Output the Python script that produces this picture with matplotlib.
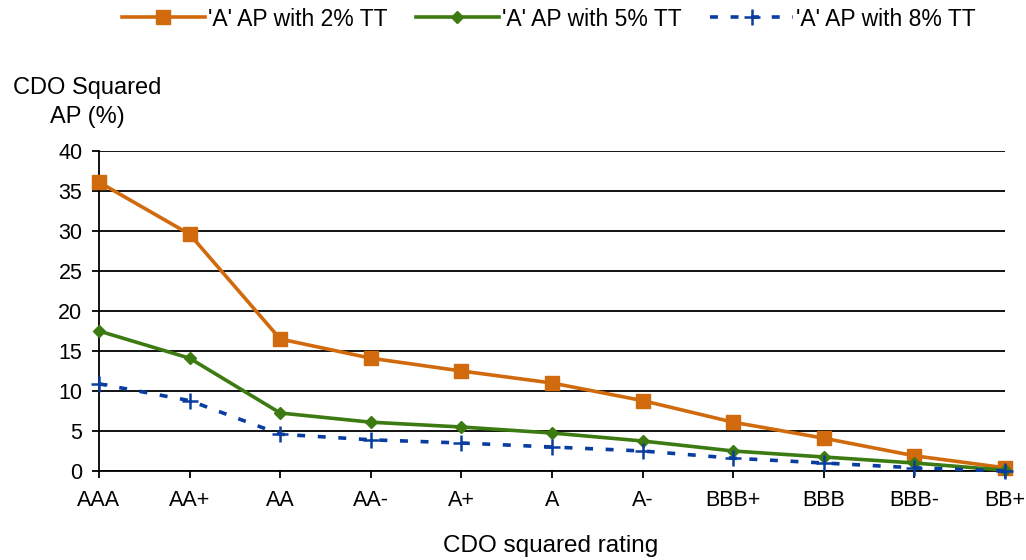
import matplotlib
matplotlib.use("Agg")
import matplotlib.pyplot as plt

plt.rcParams['font.family'] = ['Liberation Sans', 'DejaVu Sans']

ratings = ["AAA", "AA+", "AA", "AA-", "A+", "A", "A-", "BBB+", "BBB", "BBB-", "BB+"]
ap_2pct = [36.1, 29.6, 16.5, 14.1, 12.5, 11.0, 8.8, 6.1, 4.1, 1.9, 0.4]
ap_5pct = [17.5, 14.1, 7.25, 6.1, 5.5, 4.75, 3.75, 2.5, 1.75, 1.0, 0.1]
ap_8pct = [10.9, 8.8, 4.6, 3.9, 3.5, 3.0, 2.5, 1.6, 1.0, 0.4, 0.0]
series_labels = ["'A' AP with 2% TT", "'A' AP with 5% TT", "'A' AP with 8% TT"]
y_ticks = [0, 5, 10, 15, 20, 25, 30, 35, 40]

c_orange = "#D06A0C"
c_green = "#3C7A12"
c_blue = "#0A3DA0"

W, H = 1026, 560
fig = plt.figure(figsize=(W / 100, H / 100), dpi=100)
ax = fig.add_axes([99 / W, 1 - 471 / H, 906 / W, 320 / H])

x = list(range(len(ratings)))
ax.plot(x, ap_2pct, color=c_orange, lw=2.6, marker='s', ms=9.5, label=series_labels[0], clip_on=False, zorder=3)
ax.plot(x, ap_5pct, color=c_green, lw=2.6, marker='D', ms=6.5, label=series_labels[1], clip_on=False, zorder=4)
ax.plot(x, ap_8pct, color=c_blue, lw=2.6, ls=(0, (2.2, 3.5)), marker='+', ms=11, mew=1.8,
        label=series_labels[2], clip_on=False, zorder=5)

ax.set_xlim(0, 10)
ax.set_ylim(0, 40)
ax.set_yticks(y_ticks)
ax.set_xticks(x)
ax.set_xticklabels(ratings)
ax.yaxis.grid(True, color='black', lw=1.3)
ax.set_axisbelow(True)
for s in ['top', 'right']:
    ax.spines[s].set_visible(False)
ax.spines['left'].set_linewidth(1.3)
ax.spines['bottom'].set_linewidth(1.3)
ax.tick_params(axis='both', labelsize=15.5, length=5, width=1.3, direction='out', color='black')
ax.tick_params(axis='x', pad=9)
ax.tick_params(axis='y', pad=7)

fig.text(551 / W, 1 - 546 / H, "CDO squared rating", ha='center', va='center', fontsize=17.5)
fig.text(87 / W, 1 - 88 / H, "CDO Squared", ha='center', va='center', fontsize=17)
fig.text(87 / W, 1 - 117 / H, "AP (%)", ha='center', va='center', fontsize=17)

fig.legend(loc='center', bbox_to_anchor=(549 / W, 1 - 19 / H), ncol=3, frameon=False,
           fontsize=16.5, handlelength=3.6, columnspacing=1.25, handletextpad=0.15, borderpad=0)

fig.savefig("out.png", dpi=100, facecolor='white')
